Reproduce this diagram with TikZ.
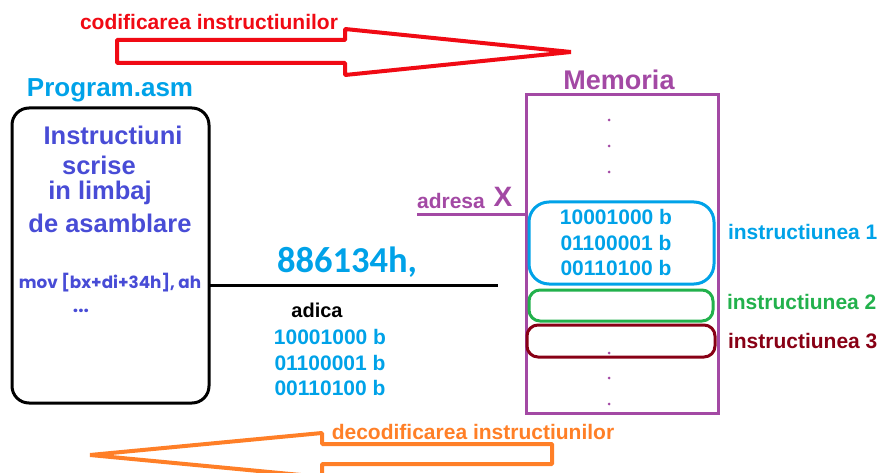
\documentclass[tikz,border=0pt]{standalone}
\usepackage{fontspec}
\setmainfont{Liberation Sans}
\newfontfamily\digitfont{Carlito}
\newfontfamily\codefont{Poppins}
\definecolor{skyb}{RGB}{0,162,232}
\definecolor{indig}{RGB}{72,76,214}
\definecolor{purp}{RGB}{163,73,164}
\definecolor{grn}{RGB}{34,177,76}
\definecolor{darkred}{RGB}{136,0,21}
\definecolor{orng}{RGB}{255,127,39}
\definecolor{redd}{RGB}{240,10,20}
\newcommand{\fs}[1]{\fontsize{#1}{#1}\selectfont\bfseries}
\tikzset{
  txt/.style={inner sep=0pt, outer sep=0pt},
  boxline/.style={line width=3pt},
  bigarrow/.style={line width=4pt, line join=bevel},
}
\begin{document}
\begin{tikzpicture}[x=1pt,y=-1pt]
\useasboundingbox (0,0) rectangle (881,473);
\clip (0,0) rectangle (881,473);

% encoding arrow (top)
\draw[bigarrow, redd] (117,40) -- (345,40) -- (345,29) -- (571,52) -- (345,75) -- (345,63) -- (117,63) -- cycle;
\node[txt, redd, font=\fs{21}] (enc) at (209,22) {codificarea instructiunilor};

% source file
\node[txt, skyb, font=\fs{26}] (progtitle) at (110,90) {Program.asm};
\draw[boxline, black, rounded corners=17pt] (12,108) rectangle (209,403);
\coordinate (progE) at (209,285);
\node[txt, indig, font=\fs{25.5}] (l1) at (113,135) {Instructiuni};
\node[txt, indig, font=\fs{25.5}] (l2) at (99,165) {scrise};
\node[txt, indig, font=\fs{25.5}] (l3) at (100,193) {in limbaj};
\node[txt, indig, font=\fs{25.5}] (l4) at (110,223) {de asamblare};
\node[txt, indig, font=\fs{16.8}\codefont] (mov) at (110,283) {mov [bx+di+34h], ah};
\node[txt, indig, font=\fs{19}\codefont] (ell) at (81,311) {...};

% machine code
\coordinate (codeEnd) at (498,285);
\draw[line width=3pt, black] (progE) -- (codeEnd);
\node[txt, skyb, font=\fs{36.5}\digitfont] (hex) at (347,262) {886134h,};
\node[txt, black, font=\fs{20}] (adica) at (317,310) {adica};
\node[txt, skyb, font=\fs{21}] (b1) at (330,337) {10001000 b};
\node[txt, skyb, font=\fs{21}] (b2) at (330,363) {01100001 b};
\node[txt, skyb, font=\fs{21}] (b3) at (330,388) {00110100 b};

% memory
\node[txt, purp, font=\fs{27}] (memtitle) at (619,80) {Memoria};
\draw[boxline, purp] (526,95) rectangle (718,413);
\coordinate (memW) at (526,215);
\foreach \y in {120,146,172,353,378,404} \fill[purp] (609,\y) circle (1.5pt);
\node[txt, purp, font=\fs{21}] (adresa) at (451,201) {adresa};
\node[txt, purp, font=\fs{28}] (xaddr) at (503,197) {X};
\coordinate (adrStart) at (417,215);
\draw[line width=3pt, purp] (adrStart) -- (memW);

% stored instructions
\draw[boxline, skyb, rounded corners=20pt] (529,202) rectangle (714,284);
\node[txt, skyb, font=\fs{21}] (m1) at (616,217) {10001000 b};
\node[txt, skyb, font=\fs{21}] (m2) at (616,243) {01100001 b};
\node[txt, skyb, font=\fs{21}] (m3) at (616,268) {00110100 b};
\node[txt, skyb, font=\fs{21}, anchor=west] (i1) at (728,232) {instructiunea 1};
\draw[boxline, grn, rounded corners=11pt] (529,290) rectangle (713,321);
\node[txt, grn, font=\fs{21}, anchor=west] (i2) at (727,302) {instructiunea 2};
\draw[boxline, darkred, rounded corners=11pt] (527,325) rectangle (715,357);
\node[txt, darkred, font=\fs{21}, anchor=west] (i3) at (728,341) {instructiunea 3};

% decoding arrow (bottom)
\draw[bigarrow, orng] (552,444) -- (322,444) -- (322,433) -- (90,455) -- (322,477) -- (322,464) -- (552,464) -- cycle;
\node[txt, orng, font=\fs{21}] (dec) at (473,432) {decodificarea instructiunilor};
\end{tikzpicture}
\end{document}
